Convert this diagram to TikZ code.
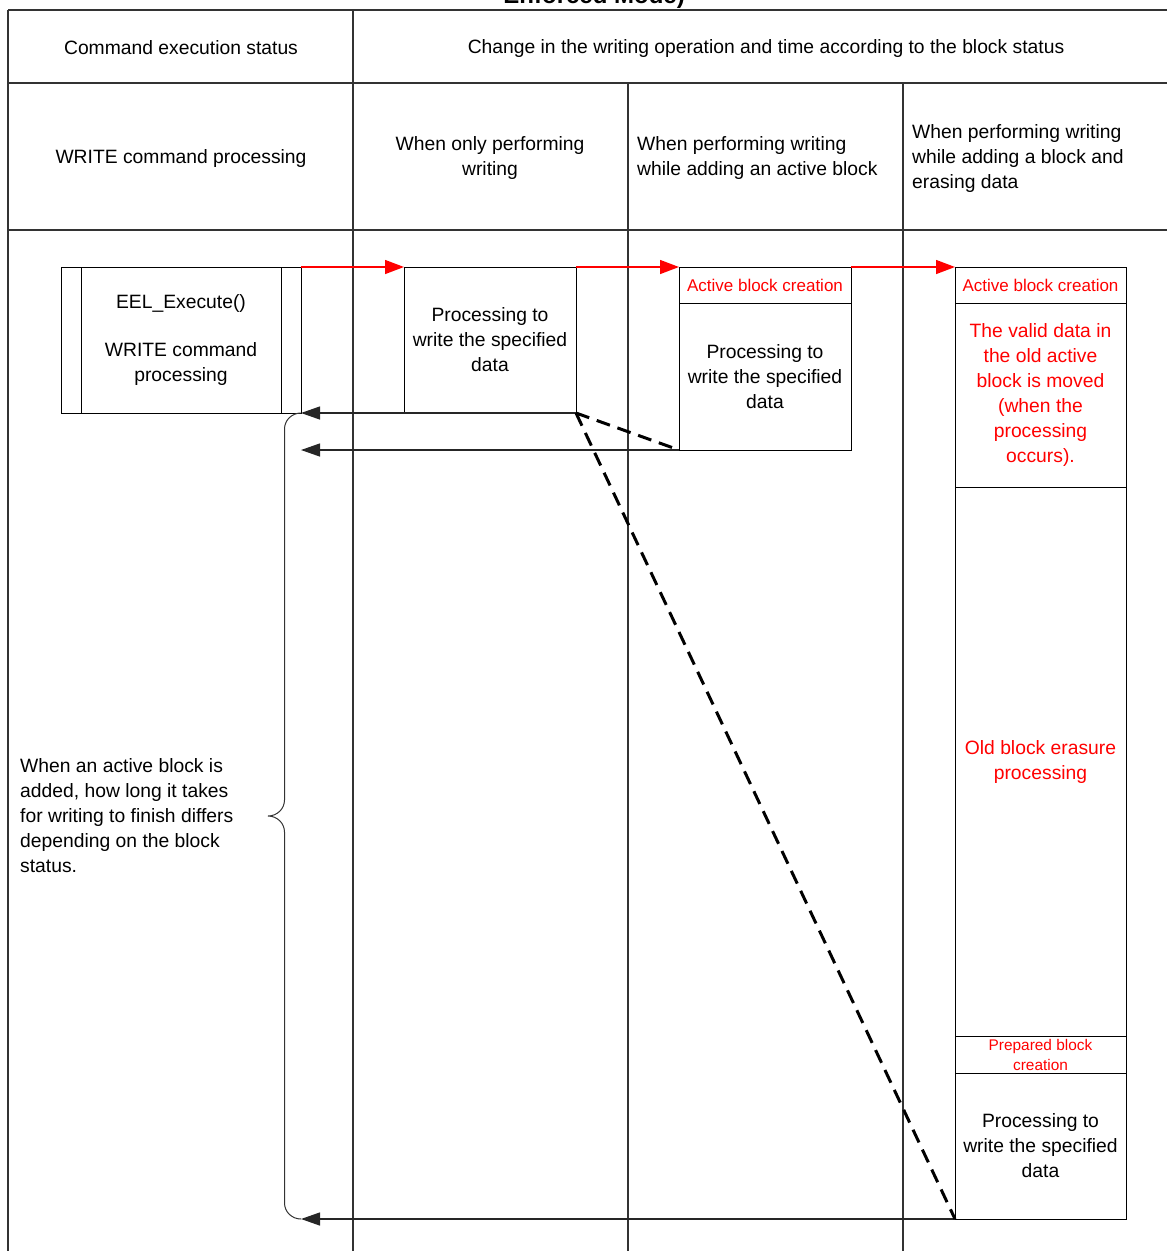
\documentclass[tikz,border=0pt]{standalone}
\usepackage{fontspec}
\setmainfont{Liberation Sans}
\usetikzlibrary{arrows.meta}

\begin{document}
\begin{tikzpicture}[x=1pt,y=-1pt,
  gridline/.style={line width=1.3pt, draw=black!80},
  body/.style={font=\fontsize{19.3}{25}\selectfont},
  box/.style={draw=black, line width=1pt, rectangle, inner sep=0pt,
    outer sep=0pt, align=center, body},
  redtxt/.style={text=red},
  smallred/.style={text=red, font=\fontsize{17}{20}\selectfont},
  tinyred/.style={text=red, font=\fontsize{15.4}{20}\selectfont},
  redarrow/.style={draw=red, line width=1.4pt,
    -{Triangle[length=19pt,width=14pt]}},
  backarrow/.style={draw=black!85, line width=1.3pt,
    -{Triangle[length=19pt,width=13pt]}},
  dashline/.style={draw=black, line width=3pt, dash pattern=on 14pt off 8pt}
]
\useasboundingbox (0,0) rectangle (1167,1251);

% page title, running off the top edge
\node[anchor=base east, inner sep=0pt, font=\bfseries\fontsize{24}{28}\selectfont]
  (title) at (685,3.5) {Enforced Mode)};

% table grid
\draw[gridline] (8,10) -- (1167,10);
\draw[gridline] (8,83) -- (1167,83);
\draw[gridline] (8,230) -- (1167,230);
\draw[gridline] (8,10) -- (8,1251);
\draw[gridline] (353,10) -- (353,1251);
\draw[gridline] (628,83) -- (628,1251);
\draw[gridline] (903,83) -- (903,1251);

% header texts
\node[body, inner sep=0pt] (h1) at (181,48) {Command execution status};
\node[body, inner sep=0pt] (h2) at (766,49)
  {Change in the writing operation and time according to the block status};
\node[body, inner sep=0pt] (c1) at (181,159) {WRITE command processing};
\node[body, inner sep=0pt, align=center] (c2) at (490,158)
  {When only performing\\writing};
\node[body, inner sep=0pt, align=left, anchor=west] (c3) at (637,158)
  {When performing writing\\while adding an active block};
\node[body, inner sep=0pt, align=left, anchor=west] (c4) at (912,159)
  {When performing writing\\while adding a block and\\erasing data};

% command box (predefined process)
\node[box, minimum width=240pt, minimum height=146pt] (eel) at (181,340)
  {EEL\_Execute()\\[23pt]WRITE command\\processing};
\draw[line width=1pt] ([xshift=20pt]eel.north west) -- ([xshift=20pt]eel.south west);
\draw[line width=1pt] ([xshift=-20pt]eel.north east) -- ([xshift=-20pt]eel.south east);

% writing only
\node[box, minimum width=172pt, minimum height=146pt] (w1) at (490,340)
  {Processing to\\write the specified\\data};

% writing with an added active block
\node[box, smallred, minimum width=172pt, minimum height=36pt] (a1) at (765,285)
  {Active block creation};
\node[box, minimum width=172pt, minimum height=147pt, anchor=north] (w2)
  at (a1.south) {Processing to\\write the specified\\data};

% writing with an added block and erasure
\node[box, smallred, minimum width=171pt, minimum height=36pt] (a2) at (1040.5,285)
  {Active block creation};
\node[box, redtxt, minimum width=171pt, minimum height=184pt, anchor=north] (mv)
  at (a2.south) {The valid data in\\the old active\\block is moved\\(when the\\processing\\occurs).};
\node[box, redtxt, minimum width=171pt, minimum height=549pt, anchor=north] (er)
  at (mv.south) {Old block erasure\\processing};
\node[box, tinyred, minimum width=171pt, minimum height=37pt, anchor=north] (pb)
  at (er.south) {Prepared block\\creation};
\node[box, minimum width=171pt, minimum height=146pt, anchor=north] (w3)
  at (pb.south) {Processing to\\write the specified\\data};

% start of each writing variant
\draw[redarrow] (eel.north east) -- (w1.north west);
\draw[redarrow] (w1.north east) -- (a1.north west);
\draw[redarrow] (a1.north east) -- (a2.north west);

% returns to the caller
\draw[backarrow] (w1.south east) -- (eel.south east);
\draw[backarrow] (w2.south west) -- (eel.south east |- w2.south west);
\draw[backarrow] (w3.south west) -- (eel.south east |- w3.south west);

% dashed delay markers
\draw[dashline] (w1.south east) -- (w2.south west);
\draw[dashline] (w1.south east) -- (w3.south west);

% brace spanning the returns
\coordinate (brtop) at (eel.south east);
\coordinate (brbot) at (eel.south east |- w3.south west);
\coordinate (brtip) at (268,816);
\draw[line width=1pt, draw=black!80]
  (brtop) to[out=180,in=90] (284.5,429) -- (284.5,800)
  to[out=-90,in=0] (brtip) to[out=0,in=90] (284.5,832)
  -- (284.5,1203) to[out=-90,in=180] (brbot);

\node[body, inner sep=0pt, align=left, anchor=west] (note) at (20,816)
  {When an active block is\\added, how long it takes\\for writing to finish differs\\depending on the block\\status.};
\end{tikzpicture}
\end{document}
